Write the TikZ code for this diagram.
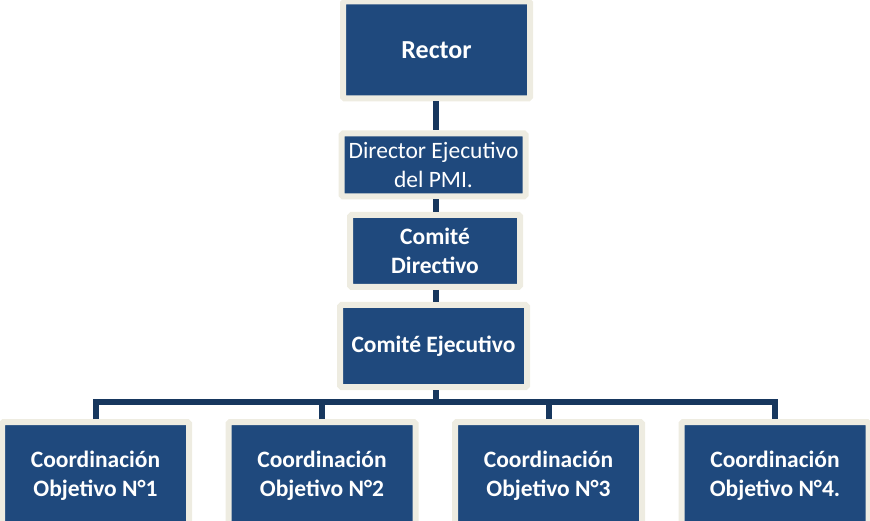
\documentclass[tikz,border=0pt]{standalone}
\usepackage{fontspec}
\setmainfont{Carlito}
\usetikzlibrary{calc}
\definecolor{orgblue}{HTML}{1F497D}
\definecolor{orgtan}{HTML}{EEECE1}
\definecolor{orgline}{HTML}{17375E}
\newcommand*{\boxwd}{187pt}
\newcommand*{\txtsize}{\fontsize{23.5}{29}\selectfont}
\tikzset{
    orgbox/.style={rectangle, fill=orgblue, draw=orgtan, line width=6pt, rounded corners=1.5pt,
        text=white, align=center, inner sep=0pt, minimum width=\boxwd, font=\txtsize\bfseries},
    conn/.style={draw=orgline, line width=6pt}
}

\begin{document}
\begin{tikzpicture}[x=1pt, y=-1pt]
    \path [use as bounding box, clip] (0,0) rectangle (870,521);
        \node [orgbox, minimum height=97pt, font=\fontsize{26}{30}\selectfont\bfseries] (rector) at (436.5, 50) {Rector};
        \node [orgbox, minimum width=184pt, minimum height=63pt, font=\txtsize] (dirEj) at (433.5,165) {Director Ejecutivo\\del PMI.};
        \node [orgbox, minimum width=170pt, minimum height=72pt] (comDir) at (435,251) {Comité\\Directivo};
        \node [orgbox, minimum height=82pt] (comEj) at (433.5,346) {Comité Ejecutivo};
        % coordinaciones
        \node [orgbox, minimum height=108pt] (coord1) at ( 95.5,476) {Coordinación\\Objetivo N°1};
        \node [orgbox, minimum height=108pt] (coord2) at (322.0,476) {Coordinación\\Objetivo N°2};
        \node [orgbox, minimum height=108pt] (coord3) at (548.5,476) {Coordinación\\Objetivo N°3};
        \node [orgbox, minimum height=108pt] (coord4) at (775.0,476) {Coordinación\\Objetivo N°4.};
        \coordinate (bus) at (436,402);
        \draw [conn] (rector.south -| bus) -- (dirEj.north -| bus);
        \draw [conn] (dirEj.south -| bus) -- (comDir.north -| bus);
        \draw [conn] (comDir.south -| bus) -- (comEj.north -| bus);
        \draw [conn] (comEj.south -| bus) -- (bus);
        \draw [conn] (coord1.north) |- (bus) -| (coord4.north);
        \draw [conn] (coord2.north) -- (coord2.north |- bus);
        \draw [conn] (coord3.north) -- (coord3.north |- bus);
    \end{tikzpicture}
\end{document}
